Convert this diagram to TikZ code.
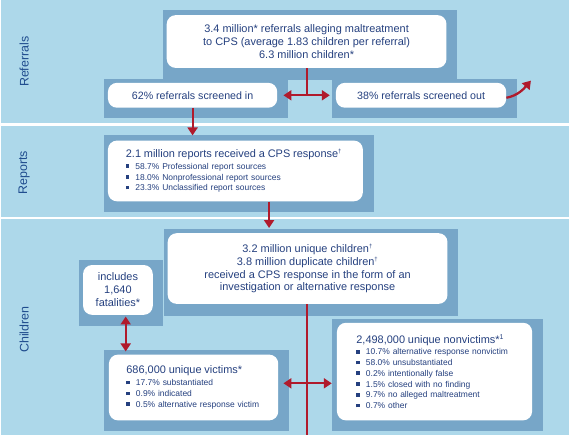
\documentclass[tikz,border=0pt]{standalone}
\usepackage{fontspec}
\setmainfont{Liberation Sans}
\usetikzlibrary{arrows.meta,calc}
\definecolor{bgc}{HTML}{ADD8EA}
\definecolor{shad}{HTML}{77A6C8}
\definecolor{txt}{HTML}{25407F}
\definecolor{lab}{HTML}{1F4C8E}
\definecolor{arr}{HTML}{B01A2C}
\newcommand{\bul}{\textcolor{txt}{\rule[0.3ex]{3.6pt}{3.6pt}}\hspace{6pt}}
\newcommand{\dg}{\textsuperscript{\fontsize{6}{6}\selectfont †}}
\begin{document}
\begin{tikzpicture}[x=1pt,y=-1pt,
  shadowbox/.style={fill=shad,draw=none},
  wbox/.style={fill=white,draw=none,rounded corners=9pt,text=txt,inner sep=0pt,anchor=north west},
  ctext/.style={align=center,font=\fontsize{11}{13}\selectfont},
  ltext/.style={align=left,font=\fontsize{8.5}{10.8}\selectfont},
  redline/.style={draw=arr,line width=2pt},
  redarrow/.style={redline,-{Triangle[width=10pt,length=8pt]}},
  dblarrow/.style={redline,{Triangle[width=10pt,length=8pt]}-{Triangle[width=10pt,length=8pt]}},
  seclabel/.style={rotate=90,text=lab,font=\fontsize{12.5}{15}\selectfont},
  sepline/.style={draw=white,line width=2.5pt}]
% background and section separators
\fill[bgc] (0,0) rectangle (570,437);
\path[sepline] (0,125) -- (570,125);
\path[sepline] (0,219) -- (570,219);
% section labels
\node[seclabel] (lref) at (23,62) {Referrals};
\node[seclabel] (lrep) at (23,173.5) {Reports};
\node[seclabel] (lchi) at (23,331) {Children};
% shadow blocks
\fill[shadowbox] (162,10) rectangle (458,80);
\fill[shadowbox] (103,79) rectangle (288,119);
\fill[shadowbox] (332,79) rectangle (518,119);
\fill[shadowbox] (103,136) rectangle (374,213);
\fill[shadowbox] (163,230) rectangle (459,317);
\fill[shadowbox] (78,261) rectangle (162,327);
\fill[shadowbox] (103,352) rectangle (289,433);
\fill[shadowbox] (332,320) rectangle (544,433);
% white boxes
\node[wbox,ctext,minimum width=281,minimum height=53] (top) at (166,15)
  {3.4 million* referrals alleging maltreatment\\to CPS (average 1.83 children per referral)\\6.3 million children*};
\node[wbox,ctext,font=\fontsize{10.7}{13}\selectfont,minimum width=170,minimum height=25] (sin) at (107,83)
  {62\% referrals screened in};
\node[wbox,ctext,font=\fontsize{10.7}{13}\selectfont,minimum width=171,minimum height=25] (sout) at (336,83)
  {38\% referrals screened out};
\node[wbox,ltext,text width=220,inner xsep=18,minimum height=61] (rep) at (107,141)
  {{\fontsize{11}{13}\selectfont 2.1 million reports received a CPS response\dg}\\[1pt]
   \bul 58.7\% Professional report sources\\
   \bul 18.0\% Nonprofessional report sources\\
   \bul 23.3\% Unclassified report sources};
\node[wbox,ctext,minimum width=281,minimum height=71] (ctop) at (167,234)
  {3.2 million unique children\dg\\3.8 million duplicate children\dg\\received a CPS response in the form of an\\investigation or alternative response};
\node[wbox,ctext,minimum width=70,minimum height=50] (inc) at (82,266)
  {includes\\1,640\\fatalities*};
\node[wbox,ltext,text width=135,inner xsep=17.5,minimum height=66] (vic) at (108,356)
  {{\fontsize{11}{13}\selectfont 686,000 unique victims*}\\[1pt]
   \bul 17.7\% substantiated\\
   \bul 0.9\% indicated\\
   \bul 0.5\% alternative response victim};
\node[wbox,ltext,text width=157,inner xsep=19.5,minimum height=98] (nvic) at (337,324)
  {{\fontsize{11}{13}\selectfont 2,498,000 unique nonvictims*\textsuperscript{\fontsize{7}{7}\selectfont 1}}\\[1pt]
   \bul 10.7\% alternative response nonvictim\\
   \bul 58.0\% unsubstantiated\\
   \bul 0.2\% intentionally false\\
   \bul 1.5\% closed with no finding\\
   \bul 9.7\% no alleged maltreatment\\
   \bul 0.7\% other};
% helper coordinates
\coordinate (j1) at ($(top.south |- sin.east)$);
\coordinate (outend) at (532,81);
\coordinate (rx) at (269,0);
\coordinate (cx) at (307,0);
\coordinate (ix) at (125,0);
\coordinate (cbot) at (307,437);
\coordinate (j2) at (307,385);
% connectors
\draw[redline] (top.south) -- (j1);
\draw[dblarrow] ($(sin.east)+(6,0)$) -- ($(sout.west)+(-6,0)$);
\draw[redarrow,line width=2.3pt] ($(sout.east)+(0,2.5)$) .. controls (519,96) and (525,89) .. (outend);
\draw[redarrow] (sin.south) -- ($(rep.north -| sin.south)+(0,-5)$);
\draw[redarrow] (rep.south -| rx) -- ($(ctop.north -| rx)+(0,-5)$);
\draw[redline] (ctop.south -| cx) -- (cbot);
\draw[dblarrow] ($(vic.east |- j2)+(5,0)$) -- ($(nvic.west |- j2)+(-5,0)$);
\draw[dblarrow] ($(inc.south -| ix)+(0,1.5)$) -- ($(vic.north -| ix)+(0,-3)$);
\end{tikzpicture}
\end{document}
